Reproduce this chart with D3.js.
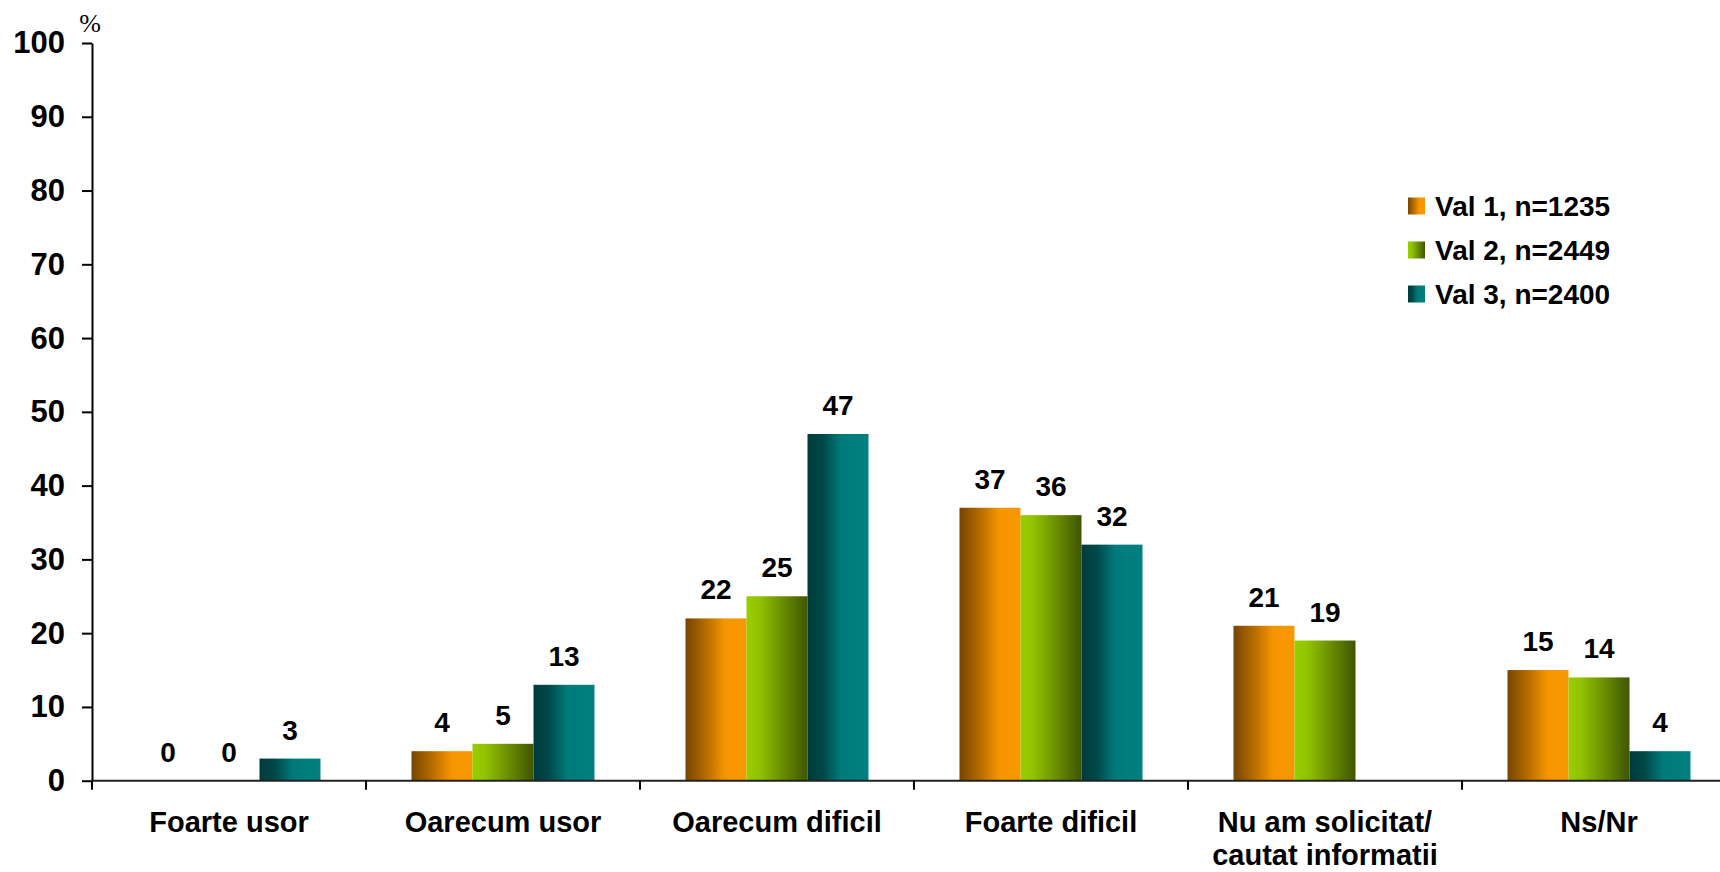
<!DOCTYPE html>
<html>
<head>
<meta charset="utf-8">
<script src="https://cdn.jsdelivr.net/npm/d3@7"></script>
<style>
    body { margin: 0; background: #fff; }
    text { font-family: 'Liberation Sans', Arial, sans-serif; font-weight: bold; fill: #000; }
</style>
</head>
<body>
<svg id="chart"></svg>
<script>
// data

let categories = ['Foarte usor', 'Oarecum usor', 'Oarecum dificil', 'Foarte dificil', 'Nu am solicitat/\ncautat informatii', 'Ns/Nr'];
let seriesNames = ['Val 1, n=1235', 'Val 2, n=2449', 'Val 3, n=2400'];
let val1 = [0, 4, 22, 37, 21, 15];
let val2 = [0, 5, 25, 36, 19, 14];
let val3 = [3, 13, 47, 32, null, 4];
let yTicks = [0, 10, 20, 30, 40, 50, 60, 70, 80, 90, 100];

let seriesValues = [val1, val2, val3];

// sizes

let width = 1720;
let height = 872;
let axisLeft = 92;
let bandWidth = 274;
let groupPad = 45.5;
let yTop = 43;
let yZero = 780.7;

// scales

let x0 = d3.scaleBand()
    .domain(categories)
    .range([axisLeft, axisLeft + bandWidth * categories.length])
    .padding(0);

let x1 = d3.scaleBand()
    .domain(d3.range(seriesNames.length))
    .range([groupPad, bandWidth - groupPad])
    .padding(0);

let y = d3.scaleLinear()
    .domain([0, 100])
    .range([yZero, yTop]);

let svg = d3.select('#chart')
    .attr('width', width)
    .attr('height', height);

// gradients

let gradients = [
    [['0', '#774400'], ['0.35', '#b86e00'], ['0.65', '#f79500'], ['1', '#f89800']],
    [['0', '#99cc00'], ['0.2', '#92c400'], ['1', '#3f5500']],
    [['0', '#003c3c'], ['0.25', '#004848'], ['0.55', '#007a7a'], ['1', '#008080']]
];

let defs = svg.append('defs');
gradients.forEach((stops, i) => {
    let g = defs.append('linearGradient')
        .attr('id', 'grad' + i)
        .attr('x1', 0).attr('x2', 1)
        .attr('y1', 0).attr('y2', 0);
    stops.forEach(s => g.append('stop').attr('offset', s[0]).attr('stop-color', s[1]));
});

// bars

let groups = svg.append('g')
    .selectAll('g')
    .data(categories)
    .enter()
    .append('g')
    .attr('transform', d => `translate(${x0(d)}, 0)`);

groups.selectAll('rect')
    .data((d, ci) => seriesValues.map((vals, si) => ({ si: si, v: vals[ci] })))
    .enter()
    .filter(d => d.v !== null)
    .append('rect')
    .attr('x', d => x1(d.si))
    .attr('y', d => y(d.v))
    .attr('width', x1.bandwidth())
    .attr('height', d => yZero - y(d.v))
    .style('fill', d => `url(#grad${d.si})`);

groups.selectAll('text')
    .data((d, ci) => seriesValues.map((vals, si) => ({ si: si, v: vals[ci] })))
    .enter()
    .filter(d => d.v !== null)
    .append('text')
    .attr('x', d => x1(d.si) + x1.bandwidth() / 2)
    .attr('y', d => y(d.v) - 19)
    .attr('text-anchor', 'middle')
    .style('font-size', '28px')
    .text(d => d.v);

// y axis

svg.append('g')
    .attr('transform', `translate(${axisLeft}, 0)`)
    .call(d3.axisLeft(y)
        .tickValues(yTicks)
        .tickSize(10)
        .tickPadding(17)
        .tickSizeOuter(0))
    .call(g => g.select('.domain').attr('stroke', '#000').attr('stroke-width', 2))
    .call(g => g.selectAll('.tick line').attr('stroke', '#000').attr('stroke-width', 2))
    .call(g => g.selectAll('.tick text')
        .style('font-family', "'Liberation Sans', Arial, sans-serif")
        .style('font-weight', 'bold')
        .style('font-size', '31px'));

svg.append('text')
    .attr('x', 90)
    .attr('y', 32)
    .attr('text-anchor', 'middle')
    .style('font-family', "'Liberation Serif', 'Times New Roman', serif")
    .style('font-weight', 'normal')
    .style('font-size', '26px')
    .text('%');

// x axis

let xAxis = svg.append('g');

xAxis.append('line')
    .attr('x1', axisLeft)
    .attr('x2', x0.range()[1])
    .attr('y1', yZero)
    .attr('y2', yZero)
    .attr('stroke', '#222')
    .attr('stroke-width', 2);

xAxis.selectAll('.xtick')
    .data(categories.concat(['end']))
    .enter()
    .append('line')
    .attr('class', 'xtick')
    .attr('x1', d => d === 'end' ? x0.range()[1] : x0(d))
    .attr('x2', d => d === 'end' ? x0.range()[1] : x0(d))
    .attr('y1', yZero)
    .attr('y2', yZero + 9)
    .attr('stroke', '#000')
    .attr('stroke-width', 2);

xAxis.selectAll('.xlabel')
    .data(categories)
    .enter()
    .append('text')
    .attr('class', 'xlabel')
    .attr('text-anchor', 'middle')
    .style('font-size', '29px')
    .each(function(d) {
        let lines = d.split('\n');
        let t = d3.select(this);
        lines.forEach((line, i) => {
            t.append('tspan')
                .attr('x', x0(d) + bandWidth / 2)
                .attr('y', 832 + i * 33)
                .text(line);
        });
    });

// legend

let legend = svg.append('g')
    .attr('transform', 'translate(1408, 206)');

seriesNames.forEach((name, i) => {
    legend.append('rect')
        .attr('x', 0)
        .attr('y', i * 44 - 8.5)
        .attr('width', 17)
        .attr('height', 17)
        .style('fill', `url(#grad${i})`);

    legend.append('text')
        .attr('x', 27)
        .attr('y', i * 44 + 10)
        .style('font-size', '28px')
        .text(name);
});
</script>
</body>
</html>
